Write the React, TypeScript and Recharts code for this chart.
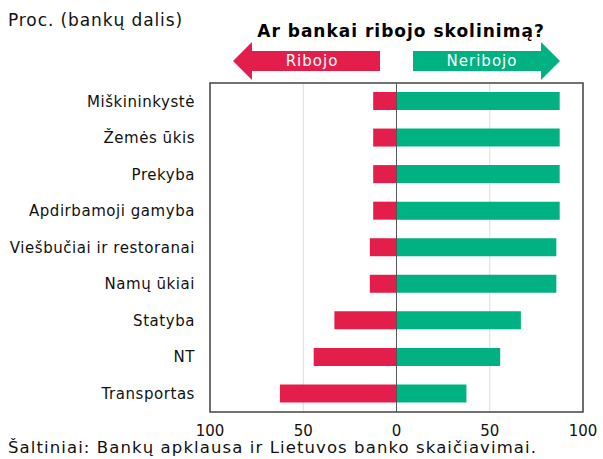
import React from "react";
import {
  BarChart,
  Bar,
  XAxis,
  YAxis,
  CartesianGrid,
  ReferenceLine,
  ReferenceArea,
} from "recharts";

const categories = [
  "Miškininkystė",
  "Žemės ūkis",
  "Prekyba",
  "Apdirbamoji gamyba",
  "Viešbučiai ir restoranai",
  "Namų ūkiai",
  "Statyba",
  "NT",
  "Transportas",
];
const ribojo = [-12.5, -12.5, -12.5, -12.5, -14.3, -14.3, -33.3, -44.4, -62.5];
const neribojo = [87.5, 87.5, 87.5, 87.5, 85.7, 85.7, 66.7, 55.6, 37.5];
const xTicks = [-100, -50, 0, 50, 100];

const RED = "#E31E4A";
const GREEN = "#00B181";
const FONT = "'DejaVu Sans', Verdana, sans-serif";

export default function App() {
  const data = categories.map((name, i) => ({
    name,
    ribojo: ribojo[i],
    neribojo: neribojo[i],
  }));

  return (
    <div style={{ position: "absolute", left: 0, top: 0, width: 603, height: 459, background: "#fff", fontFamily: FONT }}>
      <BarChart
        width={603}
        height={459}
        data={data}
        layout="vertical"
        stackOffset="sign"
        margin={{ top: 83, right: 20, bottom: 0, left: 0 }}
      >
        <CartesianGrid horizontal={false} stroke="#dcdcdc" />
        <XAxis
          type="number"
          domain={[-100, 100]}
          ticks={xTicks}
          tickFormatter={(v) => String(Math.abs(v))}
          axisLine={false}
          tickLine={false}
          tickMargin={7}
          height={47}
          tick={{ fontSize: 15, fill: "#111", fontFamily: FONT }}
        />
        <YAxis
          type="category"
          dataKey="name"
          width={210}
          axisLine={false}
          tickLine={false}
          tickSize={0}
          tickMargin={15}
          interval={0}
          tick={{ fontSize: 15, fill: "#111", fontFamily: FONT, letterSpacing: 0.55 }}
        />
        <ReferenceArea x1={-100} x2={100} fill="none" stroke="#444" strokeWidth={1.5} />
        <Bar dataKey="ribojo" stackId="a" fill={RED} barSize={18} isAnimationActive={false} />
        <Bar dataKey="neribojo" stackId="a" fill={GREEN} barSize={18} isAnimationActive={false} />
        <ReferenceLine x={0} stroke="#555" strokeWidth={1} />
      </BarChart>

      <svg width={603} height={100} style={{ position: "absolute", left: 0, top: 0 }}>
        <text x={8} y={26} fontSize={17} fill="#111" fontFamily={FONT} letterSpacing={0.9}>
          Proc. (bankų dalis)
        </text>
        <text x={401} y={37} fontSize={17} fontWeight="bold" textAnchor="middle" fill="#000" fontFamily={FONT} letterSpacing={1}>
          Ar bankai ribojo skolinimą?
        </text>
        <polygon points="233,61 252,42 252,51 380,51 380,71 252,71 252,80" fill={RED} />
        <polygon points="560,61 541,42 541,51 413,51 413,71 541,71 541,80" fill={GREEN} />
        <text x={312} y={66} fontSize={15} fill="#fff" textAnchor="middle" fontFamily={FONT} letterSpacing={1}>
          Ribojo
        </text>
        <text x={482} y={66} fontSize={15} fill="#fff" textAnchor="middle" fontFamily={FONT} letterSpacing={1}>
          Neribojo
        </text>
      </svg>

      <div style={{ position: "absolute", left: 8, top: 438, fontSize: 16.5, letterSpacing: 1.1, color: "#111", whiteSpace: "nowrap" }}>
        Šaltiniai: Bankų apklausa ir Lietuvos banko skaičiavimai.
      </div>
    </div>
  );
}
